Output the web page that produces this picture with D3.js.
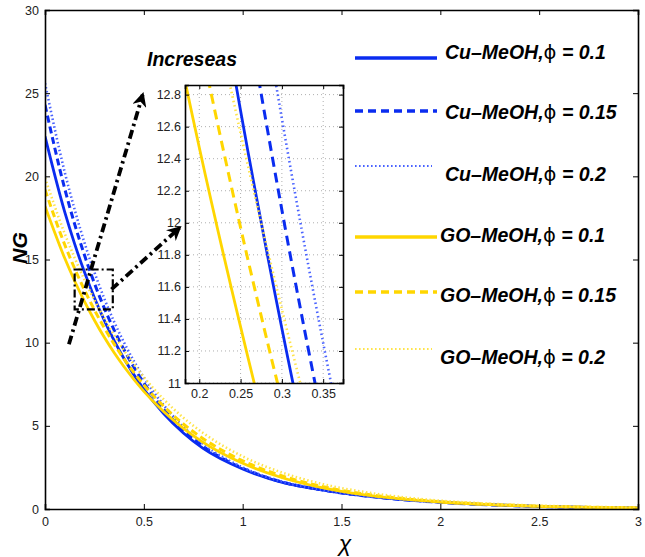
<!DOCTYPE html>
<html><head><meta charset="utf-8">
<script src="https://cdn.jsdelivr.net/npm/d3@7/dist/d3.min.js"></script>
<style>body{margin:0;background:#fff}svg{display:block}text{font-family:"Liberation Sans",Arial,sans-serif}</style>
</head><body><svg id="c" width="645" height="557"></svg>
<script>
// ---- data ----
const chi = [0,0.1,0.15,0.2,0.25,0.3,0.35,0.4,0.5,0.6,0.7,0.8,1.0,1.2,1.4,1.6,1.8,2.0,2.25,2.5,2.75,3.0];
const cuMeOH01  = [22.4,17.85,15.94,14.23,12.70,11.34,10.12,9.03,7.20,5.74,4.57,3.64,2.40,1.60,1.15,0.82,0.58,0.41,0.26,0.16,0.09,0.05];
const cuMeOH015 = [24.3,19.25,17.13,15.25,13.57,12.08,10.75,9.57,7.58,6.00,4.76,3.77,2.45,1.62,1.15,0.81,0.57,0.40,0.25,0.15,0.09,0.05];
const cuMeOH02  = [25.6,20.24,18.00,16.00,14.23,12.65,11.25,10.0,7.90,6.25,4.94,3.91,2.50,1.65,1.16,0.82,0.57,0.40,0.25,0.15,0.09,0.05];
const goMeOH01  = [18.2,15.07,13.71,12.47,11.35,10.32,9.39,8.55,7.07,5.86,4.85,4.01,2.75,1.88,1.29,0.88,0.61,0.42,0.26,0.16,0.10,0.06];
const goMeOH015 = [19.2,15.89,14.46,13.16,11.97,10.89,9.91,9.01,7.46,6.18,5.11,4.23,2.90,1.99,1.36,0.93,0.64,0.44,0.28,0.17,0.11,0.07];
const goMeOH02  = [19.9,16.55,15.10,13.77,12.56,11.46,10.45,9.53,7.93,6.60,5.49,4.57,3.16,2.19,1.51,1.05,0.72,0.50,0.32,0.20,0.13,0.08];
const seriesNames = ["Cu\u2013MeOH,", "Cu\u2013MeOH,", "Cu\u2013MeOH,", "GO\u2013MeOH,", "GO\u2013MeOH,", "GO\u2013MeOH,"];
const phiValues = ["0.1","0.15","0.2","0.1","0.15","0.2"];
const xTicks = [0,0.5,1,1.5,2,2.5,3];
const yTicks = [0,5,10,15,20,25,30];
const insetXTicks = [0.2,0.25,0.3,0.35];
const insetYTicks = [11,11.2,11.4,11.6,11.8,12,12.2,12.4,12.6,12.8];
const zoomBox = {x0:0.15, x1:0.343, y0:12.0, y1:14.4};
const arrows = [{x0:0.121,y0:9.9,x1:0.494,y1:24.9},{x0:0.336,y0:13.2,x1:0.68,y1:16.9}];

// ---- styles ----
const BLUE="#0a2cf0", BLUE_L="#4a63ff", YEL="#ffd600", YEL_L="#ffe44a";
const styles = [
  {c:BLUE, w:2.8, d:null},
  {c:BLUE, w:3, d:"7,4"},
  {c:BLUE_L, w:2.6, d:"1.5,2.5"},
  {c:YEL, w:2.8, d:null},
  {c:YEL, w:3, d:"7,4"},
  {c:YEL_L, w:2.6, d:"1.5,2.5"}
];
const allSeries = [cuMeOH01,cuMeOH015,cuMeOH02,goMeOH01,goMeOH015,goMeOH02];

const svg = d3.select("#c");
const L=45, R=638, T=10, B=509;
const x = d3.scaleLinear().domain([0,3]).range([L,R]);
const y = d3.scaleLinear().domain([0,30]).range([B,T]);

const defs = svg.append("defs");
defs.append("clipPath").attr("id","mclip").append("rect").attr("x",L).attr("y",T).attr("width",R-L).attr("height",B-T);
defs.append("marker").attr("id","ah").attr("viewBox","0 0 10 10").attr("refX",8).attr("refY",5)
  .attr("markerWidth",3.8).attr("markerHeight",3.8).attr("orient","auto")
  .append("path").attr("d","M0,0 L10,5 L0,10 L3,5 Z").attr("fill","#000");

// main curves
const gMain = svg.append("g").attr("clip-path","url(#mclip)");
allSeries.forEach((s,i)=>{
  const line = d3.line().x((d,j)=>x(chi[j])).y(d=>y(d)).curve(d3.curveMonotoneX);
  gMain.append("path").attr("d",line(s)).attr("fill","none").attr("stroke",styles[i].c)
    .attr("stroke-width",styles[i].w).attr("stroke-dasharray",styles[i].d);
});

// axes frame
const axB = d3.axisBottom(x).tickValues(xTicks).tickSize(-5).tickPadding(8).tickFormat(d3.format("~g"));
const axL = d3.axisLeft(y).tickValues(yTicks).tickSize(-5).tickPadding(6);
const axT = d3.axisTop(x).tickValues(xTicks).tickSize(-5).tickFormat("");
const axR = d3.axisRight(y).tickValues(yTicks).tickSize(-5).tickFormat("");
function styleAx(g){g.select(".domain").attr("stroke","#000").attr("stroke-width",1.6);
  g.selectAll(".tick line").attr("stroke","#000").attr("stroke-width",1);
  g.selectAll(".tick text").attr("font-size",12.5).attr("fill","#222").attr("font-family","'Liberation Sans Narrow','Liberation Sans',Arial,sans-serif");}
svg.append("g").attr("transform",`translate(0,${B})`).call(axB).call(styleAx);
svg.append("g").attr("transform",`translate(${L},0)`).call(axL).call(styleAx);
svg.append("g").attr("transform",`translate(0,${T})`).call(axT).call(styleAx);
svg.append("g").attr("transform",`translate(${R},0)`).call(axR).call(styleAx);

// zoom rectangle
svg.append("rect").attr("x",x(zoomBox.x0)).attr("y",y(zoomBox.y1))
  .attr("width",x(zoomBox.x1)-x(zoomBox.x0)).attr("height",y(zoomBox.y0)-y(zoomBox.y1))
  .attr("fill","none").attr("stroke","#000").attr("stroke-width",2.2).attr("stroke-dasharray","8,3,2,3");

// arrows
arrows.forEach(a=>{
  svg.append("line").attr("x1",x(a.x0)).attr("y1",y(a.y0)).attr("x2",x(a.x1)).attr("y2",y(a.y1))
    .attr("stroke","#000").attr("stroke-width",3.8).attr("stroke-dasharray","9,4,2.5,4")
    .attr("marker-end","url(#ah)");
});

// inset
const iL=185, iR=343, iT=85, iB=383;
const ix = d3.scaleLinear().domain([0.1827,0.374]).range([iL,iR]);
const iy = d3.scaleLinear().domain([11,12.86]).range([iB,iT]);
defs.append("clipPath").attr("id","iclip").append("rect").attr("x",iL).attr("y",iT).attr("width",iR-iL).attr("height",iB-iT);
svg.append("rect").attr("x",iL).attr("y",iT).attr("width",iR-iL).attr("height",iB-iT).attr("fill","#fff");
const gI = svg.append("g");
gI.selectAll(".gx").data(insetXTicks).enter().append("line").attr("x1",d=>ix(d)).attr("x2",d=>ix(d))
  .attr("y1",iT).attr("y2",iB).attr("stroke","#999").attr("stroke-width",0.8).attr("stroke-dasharray","1,3");
gI.selectAll(".gy").data(insetYTicks).enter().append("line").attr("y1",d=>iy(d)).attr("y2",d=>iy(d))
  .attr("x1",iL).attr("x2",iR).attr("stroke","#999").attr("stroke-width",0.8).attr("stroke-dasharray","1,3");
const gIL = svg.append("g").attr("clip-path","url(#iclip)");
allSeries.forEach((s,i)=>{
  const line = d3.line().x((d,j)=>ix(chi[j])).y(d=>iy(d)).curve(d3.curveMonotoneX);
  gIL.append("path").attr("d",line(s)).attr("fill","none").attr("stroke",styles[i].c)
    .attr("stroke-width",styles[i].w).attr("stroke-dasharray",styles[i].d ? (styles[i].d==="7,4"?"10,6":"1.5,3") : null);
});
const iaxB = d3.axisBottom(ix).tickValues(insetXTicks).tickSize(-4).tickPadding(6).tickFormat(d3.format("~g"));
const iaxL = d3.axisLeft(iy).tickValues(insetYTicks).tickSize(-4).tickPadding(4).tickFormat(d3.format("~g"));
const iaxT = d3.axisTop(ix).tickValues(insetXTicks).tickSize(-4).tickFormat("");
const iaxR = d3.axisRight(iy).tickValues(insetYTicks).tickSize(-4).tickFormat("");
svg.append("g").attr("transform",`translate(0,${iB})`).call(iaxB).call(styleAx);
svg.append("g").attr("transform",`translate(${iL},0)`).call(iaxL).call(styleAx);
svg.append("g").attr("transform",`translate(0,${iT})`).call(iaxT).call(styleAx);
svg.append("g").attr("transform",`translate(${iR},0)`).call(iaxR).call(styleAx);

// legend
const legLineY = [58,111,166,237,292,349];
const legTextY = [52,112,174,235,295,357];
const legTextX = [445,445,445,440,440,440];
styles.forEach((st,i)=>{
  svg.append("line").attr("x1",355).attr("x2",i%3===2?432:437).attr("y1",legLineY[i]).attr("y2",legLineY[i])
    .attr("stroke",st.c).attr("stroke-width",st.d==="1.5,2.5"?2.2:3.6)
    .attr("stroke-dasharray",st.d? (st.d==="7,4"?"8,5":"1.6,2.4"):null);
  const t = svg.append("text").attr("x",legTextX[i]).attr("y",legTextY[i]).attr("dy","0.35em")
    .attr("font-size",19.5).attr("font-weight","bold").attr("font-style","italic").attr("fill","#000");
  t.append("tspan").text(seriesNames[i]);
  t.append("tspan").attr("font-style","normal").attr("font-weight","normal").attr("font-family","'DejaVu Sans',sans-serif").text("\u03d5");
  t.append("tspan").text(" = "+phiValues[i]);
});

// texts
svg.append("text").attr("x",147).attr("y",66).attr("font-size",19.5).attr("font-weight","bold")
  .attr("font-style","italic").text("Increseas");
svg.append("text").attr("transform","translate(27,248) rotate(-90)").attr("text-anchor","middle")
  .attr("font-size",21).attr("font-weight","bold").attr("font-style","italic").text("NG");
svg.append("text").attr("x",345).attr("y",551).attr("text-anchor","middle").attr("font-size",23)
  .attr("font-family","'DejaVu Sans',sans-serif").attr("font-style","italic").text("\u03c7");
</script></body></html>
